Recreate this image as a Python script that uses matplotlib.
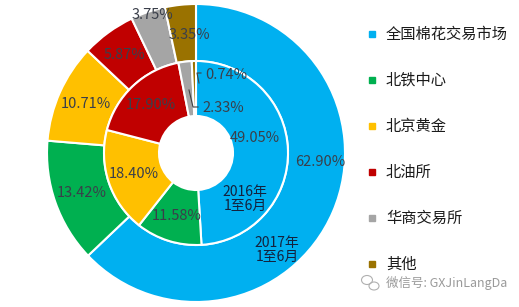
import numpy as np
import matplotlib
matplotlib.use("Agg")
import matplotlib.pyplot as plt
from matplotlib.lines import Line2D
from matplotlib.patches import Ellipse

plt.rcParams['font.family'] = ['Noto Sans CJK SC', 'DejaVu Sans']

categories = ['全国棉花交易市场', '北铁中心', '北京黄金', '北油所', '华商交易所', '其他']
values_2017 = [62.90, 13.42, 10.71, 5.87, 3.75, 3.35]
values_2016 = [49.05, 11.58, 18.40, 17.90, 2.33, 0.74]
colors = ['#00B0F0', '#00B050', '#FFC000', '#C00000', '#A5A5A5', '#9A7200']
ring_2017 = '2017年\n1至6月'
ring_2016 = '2016年\n1至6月'
watermark = '微信号: GXJinLangDa'

W, H = 519, 307
fig = plt.figure(figsize=(W / 100, H / 100), dpi=100)
ax = fig.add_axes([46 / W, 4 / H, 300 / W, 300 / H])

R_out, w_out = 149, 57
R_in, w_in = 92, 55
wp = dict(edgecolor='white', linewidth=1.5)
outer, _ = ax.pie(values_2017, radius=R_out, colors=colors, startangle=90,
                  counterclock=False, wedgeprops=dict(width=w_out, **wp))
inner, _ = ax.pie(values_2016, radius=R_in, colors=colors, startangle=90,
                  counterclock=False, wedgeprops=dict(width=w_in, **wp))
ax.set_xlim(-150, 150)
ax.set_ylim(-150, 150)
ax.set_aspect('equal')
ax.axis('off')

lab_color = '#3a3f4a'
fs = 10.5

def mid_pos(w, r):
    a = np.deg2rad((w.theta1 + w.theta2) / 2)
    return r * np.cos(a), r * np.sin(a)

# label position overrides (layout)
outer_override = {0: (124, -9), 4: (-44, 138), 5: (-7, 118)}
inner_override = {0: (59, 15)}
for i, (w, v) in enumerate(zip(outer, values_2017)):
    x, y = outer_override.get(i, mid_pos(w, 121))
    ax.text(x, y, f'{v:.2f}%', ha='center', va='center', fontsize=fs, color=lab_color)
for i, (w, v) in enumerate(zip(inner, values_2016)):
    if i >= 4:
        continue
    x, y = inner_override.get(i, mid_pos(w, 66))
    ax.text(x, y, f'{v:.2f}%', ha='center', va='center', fontsize=fs, color=lab_color)

# small inner slices with leader lines
ax.plot([3, 1, 5], [70, 80, 80], color='#404040', lw=0.8)
ax.text(9, 78, f'{values_2016[5]:.2f}%', ha='left', va='center', fontsize=fs, color=lab_color)
ax.plot([-7, -3, 2], [63, 46, 46], color='#404040', lw=0.8)
ax.text(6, 45, f'{values_2016[4]:.2f}%', ha='left', va='center', fontsize=fs, color=lab_color)

ax.text(49, -46, ring_2016, ha='center', va='center', fontsize=10, color='#14213d', linespacing=1.0)
ax.text(81, -97, ring_2017, ha='center', va='center', fontsize=10, color='#14213d', linespacing=1.0)

handles = [Line2D([], [], marker='s', linestyle='none', markersize=5, color=c) for c in colors]
fig.legend(handles, categories, loc='upper left', bbox_to_anchor=(366 / W, 1 - 26 / H),
           frameon=False, fontsize=11, handlelength=0.8, handletextpad=0.5,
           labelspacing=1.9, borderpad=0, borderaxespad=0, labelcolor='#1a1a1a')

fig.text(386 / W, 1 - 283 / H, watermark, fontsize=9, color='#9a9a9a', va='center', ha='left')
fig.patches.append(Ellipse((367 / W, 1 - 280 / H), 11 / W, 9 / H, transform=fig.transFigure,
                           fill=False, edgecolor='#b0b0b0', lw=0.8))
fig.patches.append(Ellipse((374 / W, 1 - 286 / H), 10 / W, 8 / H, transform=fig.transFigure,
                           fill=False, edgecolor='#b0b0b0', lw=0.8))

fig.savefig('out.png', dpi=100)
